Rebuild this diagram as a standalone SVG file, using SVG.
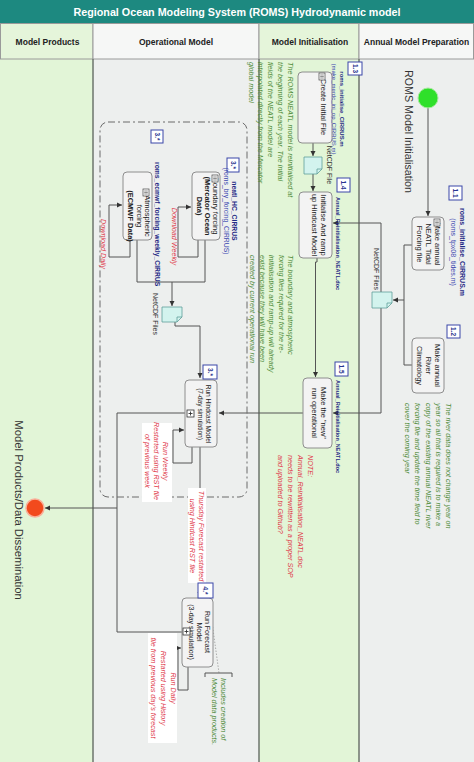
<svg xmlns="http://www.w3.org/2000/svg" width="474" height="762" viewBox="0 0 474 762">
<defs>
<style>
text{font-family:"Liberation Sans",Arial,sans-serif}
.task{fill:#f3f3f3;stroke:#8e8e8e;stroke-width:1}
.tt{font-size:7.5px;fill:#222}
.lbl{fill:#fff;stroke:#3a47a8;stroke-width:1}
.lblt{font-size:6.5px;fill:#2a3590;font-weight:bold;text-anchor:middle}
.bl{fill:#1f2a85;font-weight:bold}
.bl2{fill:#3a46b0}
.gn{font-size:7.2px;fill:#4c8a36;font-style:italic}
.rd{font-size:7.2px;fill:#e0394a;font-style:italic}
.con{fill:none;stroke:#555;stroke-width:1}
.doc{fill:#d3f3ee;stroke:#5f9f99;stroke-width:0.8}
.fold{fill:none;stroke:#5f9f99;stroke-width:0.8}
.hdr{font-size:8.5px;font-weight:bold;fill:#222;text-anchor:middle}
.wbg{fill:#fff}
</style>
<marker id="ar" markerWidth="6" markerHeight="6" refX="5" refY="3" orient="auto" markerUnits="userSpaceOnUse"><path d="M0,0.5 L5,3 L0,5.5 z" fill="#333"/></marker>
<g id="ico"><rect x="0" y="0" width="6" height="7" fill="#fff" stroke="#444" stroke-width="0.7"/><path d="M1.2,2 H4.8 M1.2,3.5 H4.8 M1.2,5 H4.8" stroke="#444" stroke-width="0.6"/></g>
<g id="sub"><rect x="0" y="0" width="7" height="7" fill="#fff" stroke="#333" stroke-width="0.8"/><path d="M3.5,1.5 V5.5 M1.5,3.5 H5.5" stroke="#333" stroke-width="0.9"/></g>
</defs>

<g id="lanes">
<rect x="0" y="59" width="93" height="703" fill="#e2f5d7"/>
<rect x="93" y="59" width="166" height="703" fill="#edefee"/>
<rect x="259" y="59" width="100" height="703" fill="#e2f5d7"/>
<rect x="359" y="59" width="115" height="703" fill="#edefee"/>
<rect x="0.5" y="23.5" width="92.5" height="35.5" fill="#e5f5da" stroke="#9a9a9a"/>
<rect x="93" y="23.5" width="166" height="35.5" fill="#f6f7f6" stroke="#9a9a9a"/>
<rect x="259" y="23.5" width="100" height="35.5" fill="#e5f5da" stroke="#9a9a9a"/>
<rect x="359" y="23.5" width="114.5" height="35.5" fill="#f6f7f6" stroke="#9a9a9a"/>
<rect x="0" y="0" width="474" height="23" fill="#1d8980"/>
<text x="237" y="16" font-size="11" font-weight="bold" fill="#fff" text-anchor="middle" textLength="327" lengthAdjust="spacingAndGlyphs">Regional Ocean Modeling System (ROMS) Hydrodynamic model</text>
<text class="hdr" x="47.5" y="45">Model Products</text>
<text class="hdr" x="176" y="45">Operational Model</text>
<text class="hdr" x="310" y="45">Model Initialisation</text>
<text class="hdr" x="416.5" y="45">Annual Model Preparation</text>
<path d="M93,59 V762 M259,59 V762 M359,59 V762" stroke="#6d766d" stroke-width="1.5"/>
</g>

<g id="notes">
<text class="gn" transform="translate(287.5,62) rotate(90)"><tspan x="0" y="0">The ROMS NEATL model is reinitialised at</tspan><tspan x="0" dy="9.75">the beginning of each year. The initial</tspan><tspan x="0" dy="9.75">fields of the NEATL model are</tspan><tspan x="0" dy="9.75">interpolated directly from the Mercator</tspan><tspan x="0" dy="9.75">global model</tspan></text>
<text class="gn" transform="translate(288,255) rotate(90)"><tspan x="0" y="0">The boundary and atmospheric</tspan><tspan x="0" dy="9.5">forcing files required for the re-</tspan><tspan x="0" dy="9.5">initialisation and ramp-up will already</tspan><tspan x="0" dy="9.5">exist because they will have been</tspan><tspan x="0" dy="9.5">created by current operational run</tspan></text>
<text class="gn" transform="translate(446,403) rotate(90)"><tspan x="0" y="0">The river data does not change year on</tspan><tspan x="0" dy="10.2">year so all that is required is to make a</tspan><tspan x="0" dy="10.2">copy of the existing annual NEATL river</tspan><tspan x="0" dy="10.2">forcing file and update the time field to</tspan><tspan x="0" dy="10.2">cover the coming year</tspan></text>
<text class="rd" transform="translate(307.5,455) rotate(90)"><tspan x="0" y="0">NOTE:</tspan><tspan x="0" dy="10">Annual_Reinitialisation_NEATL.doc</tspan><tspan x="0" dy="10">needs to be rewritten as a proper SOP</tspan><tspan x="0" dy="10">and uploaded to Github?</tspan></text>
<text transform="translate(405,70) rotate(90)" font-size="10.7" fill="#333">ROMS Model Initialisation</text>
<text transform="translate(14.5,510) rotate(90)" font-size="11.3" fill="#333" text-anchor="middle">Model Products/Data Dissemination</text>
</g>

<g id="connectors">
<path class="con" d="M428,108 V216" marker-end="url(#ar)"/>
<path class="con" d="M412,245 H404 V300 H393" marker-end="url(#ar)"/>
<path class="con" d="M412,365 H404 V300"/>
<path class="con" d="M381,292 V223 H333" marker-end="url(#ar)"/>
<path class="con" d="M381,308 V413 H333" marker-end="url(#ar)"/>
<path class="con" d="M313,143 V156" marker-end="url(#ar)"/>
<path class="con" d="M313,174 V191" marker-end="url(#ar)"/>
<path class="con" d="M317,258 V262 H315.5 V377" marker-end="url(#ar)"/>
<path class="con" d="M303,413 H219" marker-end="url(#ar)"/>
<path class="con" d="M130,240 V257 H109 V205 H122" marker-end="url(#ar)"/>
<path class="con" d="M198,240 V257 H178 V207 H191" marker-end="url(#ar)"/>
<path class="con" d="M137,240 V282 H205 V240"/>
<path class="con" d="M172,282 V306" marker-end="url(#ar)"/>
<path class="con" d="M175,322 V326 H200 V378" marker-end="url(#ar)"/>
<path class="con" d="M185,413 H117 V632 H182"/>
<path class="con" d="M117,508 H45" marker-end="url(#ar)"/>
<path class="con" d="M192,447 V463 H173 V430 H184" marker-end="url(#ar)"/>
<path class="con" d="M200,447 V597" marker-end="url(#ar)"/>
<path class="con" d="M188,667 V690 H178 V648 H181" marker-end="url(#ar)"/>
<path d="M209,600 L219,673" fill="none" stroke="#999" stroke-width="0.8" stroke-dasharray="1.5 1.5"/>
<path d="M205,677 V673 H232 V677" fill="none" stroke="#555" stroke-width="1"/>
</g>

<g id="subprocess-box">
<rect x="100" y="122" width="147" height="375" rx="8" fill="none" stroke="#6a6a6a" stroke-width="1" stroke-dasharray="7 3 2 3"/>
</g>

<g id="start">
<circle cx="428" cy="98" r="10" fill="#2fe02a" stroke="#a6e89e" stroke-width="1"/>
</g>
<g id="end">
<circle cx="35" cy="508" r="9" fill="#f24a1d" stroke="#f9b09a" stroke-width="1.5"/>
</g>

<g id="task-1-1">
<rect class="task" x="412" y="217" width="32" height="53" rx="4"/>
<text class="tt" transform="translate(434.5,244) rotate(90)" text-anchor="middle"><tspan x="0" y="0">Make annual</tspan><tspan x="0" dy="9">NEATL Tidal</tspan><tspan x="0" dy="9">Forcing file</tspan></text>
<use href="#ico" x="434" y="219"/>
<rect class="lbl" x="449" y="186" width="13" height="14"/>
<text class="lblt" transform="translate(453.3,193) rotate(90)">1.1</text>
<text transform="translate(460,252) rotate(90)" font-size="7" text-anchor="middle"><tspan class="bl" x="0" y="0">roms_initialise_CIRRUS.m</tspan><tspan class="bl2" x="0" dy="9">(roms_tpx08_tides.m)</tspan></text>
</g>

<g id="task-1-2">
<rect class="task" x="412" y="338" width="32" height="55" rx="4"/>
<text class="tt" transform="translate(434.5,365.5) rotate(90)" text-anchor="middle"><tspan x="0" y="0">Make annual</tspan><tspan x="0" dy="9">River</tspan><tspan x="0" dy="9">Climatology</tspan></text>
<rect class="lbl" x="447" y="325" width="13" height="13"/>
<text class="lblt" transform="translate(451.3,331.5) rotate(90)">1.2</text>
</g>

<g id="doc-annual">
<path class="doc" d="M372,292 H392 V303 L387,308 H372 Z"/>
<path class="fold" d="M392,303 H387 V308"/>
<text transform="translate(374,290) rotate(90)" font-size="7" fill="#333" text-anchor="end">NetCDF Files</text>
</g>

<g id="task-1-3">
<rect class="task" x="298" y="72" width="34" height="71" rx="4"/>
<text class="tt" transform="translate(320.5,107) rotate(90)" text-anchor="middle">Create Initial File</text>
<use href="#ico" x="319" y="73"/>
<rect class="lbl" x="348" y="62" width="14" height="13"/>
<text class="lblt" transform="translate(352.8,68.5) rotate(90)">1.3</text>
<text transform="translate(339.5,109) rotate(90)" font-size="6" text-anchor="middle"><tspan class="bl" x="0" y="0">roms_initialise_CIRRUS.m</tspan><tspan class="bl2" x="0" dy="8">(make_merdc_ini_op_CIRRUS.m)</tspan></text>
</g>

<g id="doc-init">
<path class="doc" d="M304,157 H322 V169 L317,174 H304 Z"/>
<path class="fold" d="M322,169 H317 V174"/>
<text transform="translate(327,165) rotate(90)" font-size="7" fill="#333" text-anchor="middle">NetCDF File</text>
</g>

<g id="task-1-4">
<rect class="task" x="299" y="192" width="33" height="66" rx="4"/>
<text class="tt" transform="translate(320.5,225) rotate(90)" text-anchor="middle"><tspan x="0" y="0">Initialise And ramp</tspan><tspan x="0" dy="9">up Hindcast Model</tspan></text>
<rect class="lbl" x="337" y="178" width="13" height="14"/>
<text class="lblt" transform="translate(341.3,185) rotate(90)">1.4</text>
<text class="bl" transform="translate(335.5,197) rotate(90)" font-size="5.5">Annual_Reinitialisation_NEATL.doc</text>
</g>

<g id="task-1-5">
<rect class="task" x="303" y="378" width="29" height="70" rx="4"/>
<text class="tt" transform="translate(320.5,413) rotate(90)" text-anchor="middle"><tspan x="0" y="0">Make the "new"</tspan><tspan x="0" dy="9">run operational</tspan></text>
<rect class="lbl" x="335" y="362" width="13" height="14"/>
<text class="lblt" transform="translate(339.3,369) rotate(90)">1.5</text>
<text class="bl" transform="translate(335.5,380) rotate(90)" font-size="5.5">Annual_Reinitialisation_NEATL.doc</text>
</g>

<g id="task-atm">
<rect class="task" x="123" y="172" width="29" height="68" rx="4"/>
<text class="tt" transform="translate(145,216) rotate(90)" text-anchor="middle"><tspan x="0" y="0">Atmospheric</tspan><tspan x="0" dy="8.5">forcing</tspan><tspan x="0" dy="8.5" font-weight="bold">(ECMWF Data)</tspan></text>
<use href="#ico" x="143" y="189"/>
<rect class="lbl" x="151" y="130" width="12" height="13"/>
<text class="lblt" transform="translate(154.8,136.5) rotate(90)">3.*</text>
<text class="bl" transform="translate(154.5,162) rotate(90)" font-size="6.8">roms_ecmwf_forcing_weekly_CIRRUS</text>
<text class="rd" transform="translate(100.5,244) rotate(90)" text-anchor="middle">Download Daily</text>
</g>

<g id="task-bry">
<rect class="task" x="192" y="172" width="28" height="68" rx="4"/>
<text class="tt" transform="translate(212.5,206) rotate(90)" text-anchor="middle"><tspan x="0" y="0">Boundary forcing</tspan><tspan x="0" dy="8" font-weight="bold">(Mercator Ocean</tspan><tspan x="0" dy="8" font-weight="bold">Data)</tspan></text>
<use href="#ico" x="212" y="175"/>
<rect class="lbl" x="227" y="158" width="12" height="14"/>
<text class="lblt" transform="translate(230.8,165) rotate(90)">3.*</text>
<text transform="translate(232,211) rotate(90)" font-size="6.8" text-anchor="middle"><tspan class="bl" x="0" y="0">neatl_HC_CIRRUS</tspan><tspan class="bl2" x="0" dy="8">(roms_bry_forcing_CIRRUS)</tspan></text>
<text class="rd" transform="translate(172,236.5) rotate(90)" font-size="6" text-anchor="middle">Download Weekly</text>
</g>

<g id="doc-ops">
<path class="doc" d="M162,307 H182 V317 L177,322 H162 Z"/>
<path class="fold" d="M182,317 H177 V322"/>
<text transform="translate(153,314) rotate(90)" font-size="7" fill="#333" text-anchor="middle">NetCDF Files</text>
</g>

<g id="task-hindcast">
<rect class="task" x="185" y="380" width="32" height="67" rx="4"/>
<text transform="translate(205.5,414) rotate(90)" font-size="6.5" fill="#222" text-anchor="middle"><tspan x="0" y="0">Run Hindcast Model</tspan><tspan x="0" dy="8">(7-day simulation)</tspan></text>
<use href="#sub" x="187" y="410"/>
<rect class="lbl" x="203" y="365" width="14" height="14"/>
<text class="lblt" transform="translate(207.8,372) rotate(90)">3.*</text>
<rect class="wbg" x="142" y="423" width="30" height="79"/>
<text class="rd" transform="translate(162.5,461) rotate(90)" text-anchor="middle"><tspan x="0" y="0">Run Weekly</tspan><tspan x="0" dy="8.7">Restarted using RST file</tspan><tspan x="0" dy="8.7">of previous week</tspan></text>
<rect class="wbg" x="188" y="488" width="18" height="95"/>
<text class="rd" transform="translate(198.5,536) rotate(90)" text-anchor="middle"><tspan x="0" y="0">Thursday Forecast restarted</tspan><tspan x="0" dy="9">using Hindcast RST file</tspan></text>
</g>

<g id="task-forecast">
<rect class="task" x="182" y="598" width="31" height="69" rx="4"/>
<text transform="translate(205,632) rotate(90)" font-size="7" fill="#222" text-anchor="middle"><tspan x="0" y="0">Run Forecast</tspan><tspan x="0" dy="8">Model</tspan><tspan x="0" dy="8">(3-day simulation)</tspan></text>
<use href="#sub" x="183" y="628"/>
<rect class="lbl" x="198" y="583" width="15" height="15"/>
<text class="lblt" transform="translate(203.3,590.5) rotate(90)">4.*</text>
<rect class="wbg" x="148" y="633" width="29" height="110"/>
<text class="rd" transform="translate(170.5,688) rotate(90)" text-anchor="middle"><tspan x="0" y="0">Run Daily</tspan><tspan x="0" dy="10">Restarted using History</tspan><tspan x="0" dy="10">file from previous day's forecast</tspan></text>
<text class="gn" transform="translate(220.5,678) rotate(90)"><tspan x="0" y="0">Includes creation of</tspan><tspan x="0" dy="8.5">Model data products.</tspan></text>
</g>
</svg>
